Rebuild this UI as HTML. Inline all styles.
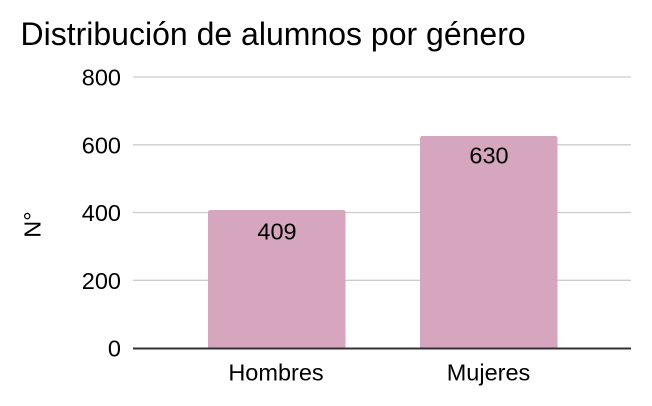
<!DOCTYPE html>
<html>
<head>
<meta charset="utf-8">
<style>
  html, body { margin: 0; padding: 0; background: #ffffff; }
  body { width: 652px; height: 406px; overflow: hidden; }
  svg { display: block; }
  text { font-family: "Liberation Sans", Arial, sans-serif; fill: #000; }
</style>
</head>
<body>
<svg width="652" height="406" viewBox="0 0 652 406" xmlns="http://www.w3.org/2000/svg">
  <rect x="0" y="0" width="652" height="406" fill="#ffffff"/>
  <!-- Title -->
  <text x="20.5" y="45" font-size="32">Distribución de alumnos por género</text>

  <!-- Gridlines -->
  <g stroke="#cccccc" stroke-width="1.3">
    <line x1="133" y1="77" x2="631" y2="77"/>
    <line x1="133" y1="144.8" x2="631" y2="144.8"/>
    <line x1="133" y1="212.5" x2="631" y2="212.5"/>
    <line x1="133" y1="280.3" x2="631" y2="280.3"/>
  </g>

  <!-- Y tick labels -->
  <g font-size="23.5" text-anchor="end">
    <text x="121" y="85.5">800</text>
    <text x="121" y="153.3">600</text>
    <text x="121" y="221">400</text>
    <text x="121" y="288.8">200</text>
    <text x="121" y="356.5">0</text>
  </g>

  <!-- Y axis title -->
  <text x="0" y="0" font-size="23.5" text-anchor="middle" transform="translate(40.5,224.5) rotate(-90)">N°</text>

  <!-- Bars -->
  <path d="M208,348 L208,212.5 Q208,210 210.5,210 L343,210 Q345.5,210 345.5,212.5 L345.5,348 Z" fill="#d5a6bd"/>
  <path d="M420,348 L420,138.5 Q420,136 422.5,136 L555,136 Q557.5,136 557.5,138.5 L557.5,348 Z" fill="#d5a6bd"/>

  <!-- Axis baseline -->
  <line x1="133" y1="348.5" x2="631" y2="348.5" stroke="#333333" stroke-width="2"/>

  <!-- Data labels -->
  <g font-size="23.5" text-anchor="middle">
    <text x="277" y="239.5">409</text>
    <text x="489" y="163.5">630</text>
  </g>

  <!-- X category labels -->
  <g font-size="23.5" text-anchor="middle">
    <text x="276" y="380.5">Hombres</text>
    <text x="488.5" y="380.5">Mujeres</text>
  </g>
</svg>
</body>
</html>
